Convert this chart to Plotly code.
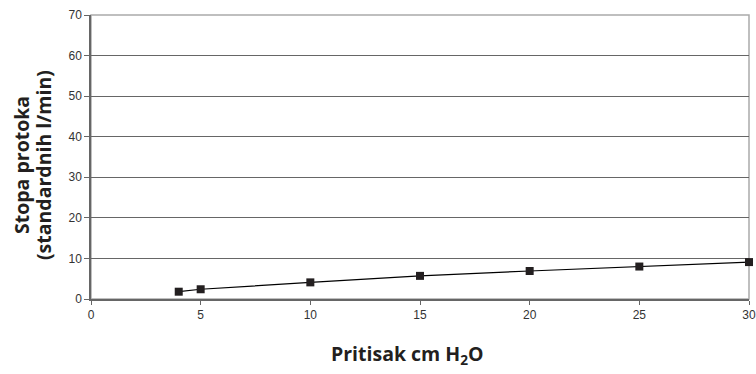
import plotly.graph_objects as go

pressure = [4, 5, 10, 15, 20, 25, 30]
flow = [1.8, 2.4, 4.1, 5.7, 6.9, 8.0, 9.1]
x_ticks = [0, 5, 10, 15, 20, 25, 30]
y_ticks = [0, 10, 20, 30, 40, 50, 60, 70]

fig = go.Figure()
fig.add_trace(go.Scatter(
    x=pressure, y=flow, mode="lines+markers",
    line=dict(color="#000000", width=1.2),
    marker=dict(symbol="square", size=8, color="#231f20"),
    showlegend=False, cliponaxis=False,
))

W, H = 756, 374
L, R, T, B = 91, 7, 15, 75
pw = W - L - R
ph = H - T - B

title_font = dict(family="Open Sans", size=19.5, color="#231f20")

fig.update_layout(
    width=W, height=H,
    margin=dict(l=L, r=R, t=T, b=B, autoexpand=False),
    paper_bgcolor="white", plot_bgcolor="white",
    font=dict(family="Liberation Sans, Arial", size=12, color="#333333"),
    xaxis=dict(
        range=[0, 30], tickvals=x_ticks, showgrid=False, zeroline=False,
        showline=True, linecolor="#666666", linewidth=1.5, automargin=False,
        ticks="outside", ticklen=4, tickcolor="#666666",
        tickfont=dict(size=12, color="#333333"),
    ),
    yaxis=dict(
        range=[0, 70], tickvals=y_ticks, showgrid=True, gridcolor="#666666",
        gridwidth=1, zeroline=False, automargin=False,
        showline=True, linecolor="#666666", linewidth=1.5,
        ticks="outside", ticklen=5, tickcolor="#666666",
        tickfont=dict(size=12, color="#333333"),
    ),
    shapes=[dict(type="rect", xref="paper", yref="paper", x0=0, y0=0, x1=1, y1=1,
                 line=dict(color="#aaaaaa", width=1.5), layer="below")],
    annotations=[
        dict(text="<b>Stopa protoka</b>", textangle=-90,
             xref="paper", yref="paper", x=-(L - 21) / pw, y=(299 - 165) / ph,
             xanchor="center", yanchor="middle", showarrow=False, font=title_font),
        dict(text="<b>(standardnih l/min)</b>", textangle=-90,
             xref="paper", yref="paper", x=-(L - 43) / pw, y=(299 - 165) / ph,
             xanchor="center", yanchor="middle", showarrow=False, font=title_font),
        dict(text="<b>Pritisak cm H<sub>2</sub>O</b>",
             xref="paper", yref="paper", x=(407 - L) / pw, y=-(354 - 299) / ph,
             xanchor="center", yanchor="middle", showarrow=False, font=title_font),
    ],
)

fig.write_html(
    "out.html",
    config={"displayModeBar": False},
    post_script="document.body.style.margin='0';document.body.style.overflow='hidden';",
)
